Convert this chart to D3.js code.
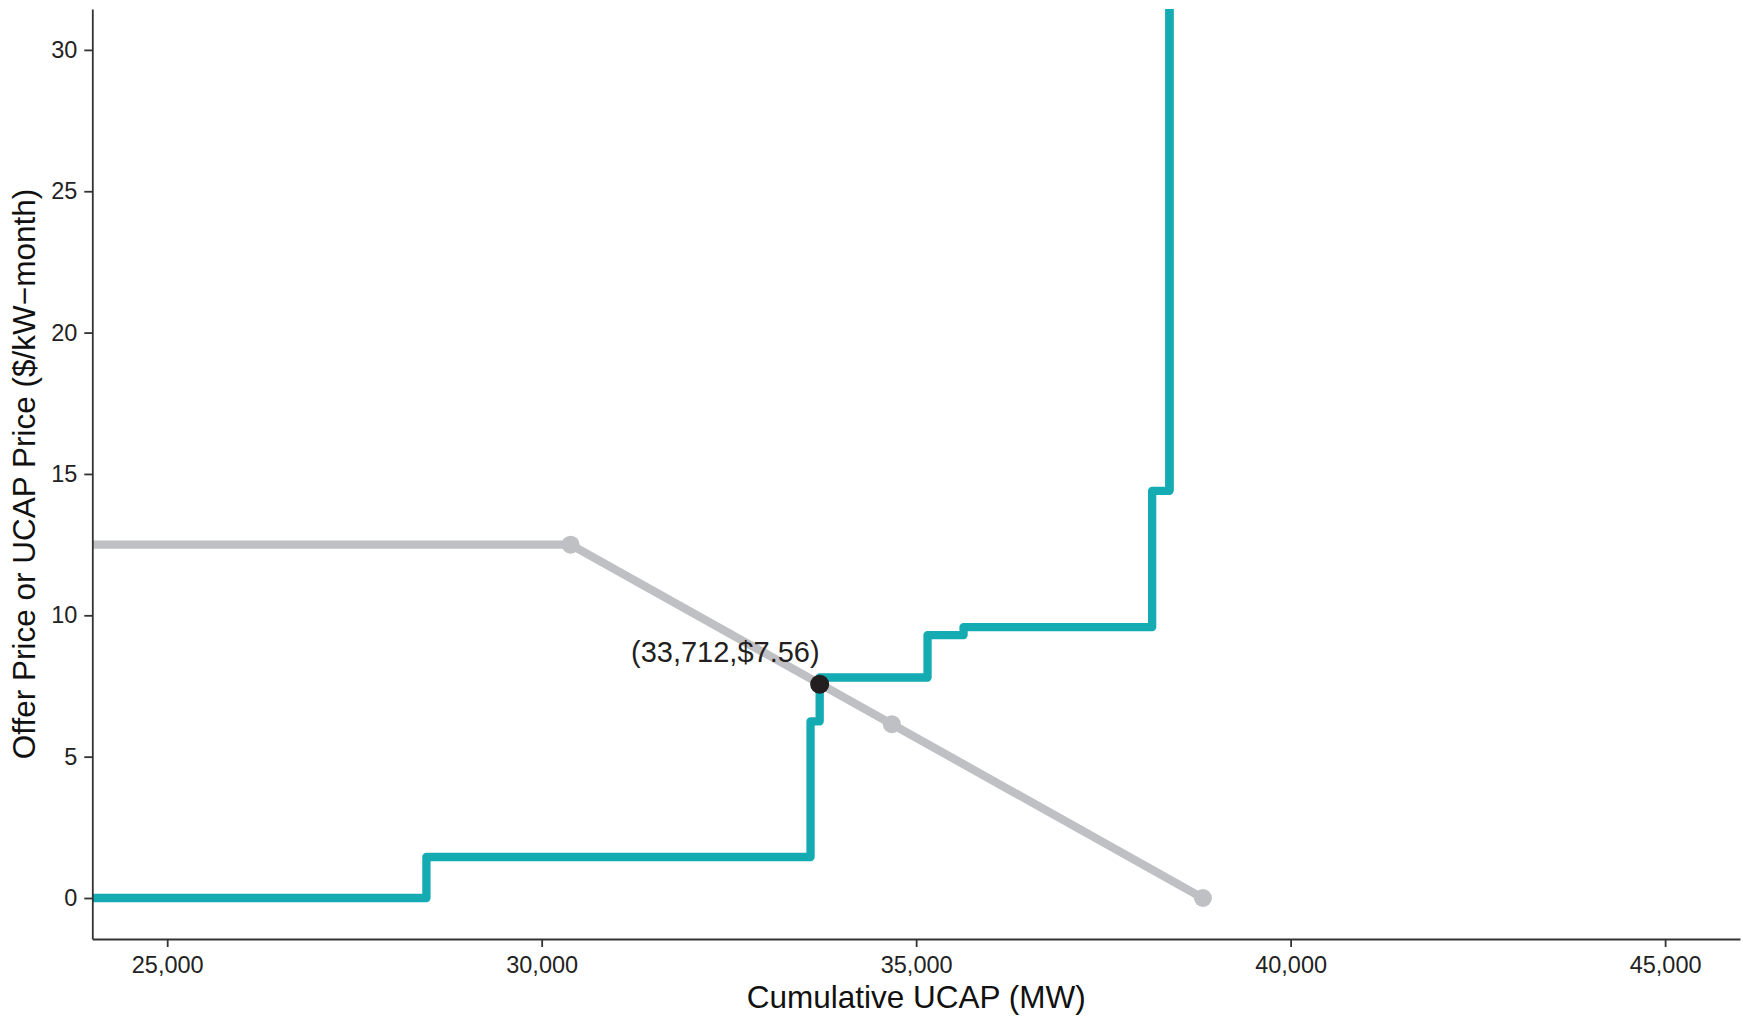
<!DOCTYPE html>
<html>
<head>
<meta charset="utf-8">
<script src="https://cdn.jsdelivr.net/npm/d3@7"></script>
<style>
  html, body { margin: 0; padding: 0; background: #fff; }
  text { font-family: "Liberation Sans", Arial, Helvetica, sans-serif; }
</style>
</head>
<body>
<svg id="chart" width="1743" height="1018"></svg>
<script>
// Supply curve (step-after): cumulative UCAP (MW) and offer price ($/kW-month)
const supplyMW    = [24000, 28461, 33590, 33712, 35152, 35633, 38151, 38382];
const supplyPrice = [0,     1.45,  6.25,  7.80,  9.30,  9.58,  14.40, 35];
const supplyEnd   = 38382;

// Demand curve points (marked with dots except the left edge)
const demandMW    = [24000, 30386, 34675, 38829];
const demandPrice = [12.5,  12.5,  6.15,  0];
const demandDots  = [false, true,  true,  true];

// Clearing point
const clearMW = [33712];
const clearPrice = [7.56];
const clearLabel = ["(33,712,$7.56)"];

const xTicks = [25000, 30000, 35000, 40000, 45000];
const yTicks = [0, 5, 10, 15, 20, 25, 30];

const teal = "#14abb3", grey = "#bfc0c4", dark = "#231f20";

const svg = d3.select("#chart");
const pLeft = 92.3, pRight = 1740, pTop = 8.9, pBottom = 939;

const x = d3.scaleLinear().domain([24000, 46000]).range([pLeft, pRight]);
const y = d3.scaleLinear().domain([-1.45, 31.45]).range([pBottom, pTop]);

svg.append("defs").append("clipPath").attr("id", "clip")
  .append("rect").attr("x", pLeft).attr("y", pTop)
  .attr("width", pRight - pLeft).attr("height", pBottom - pTop);

const plot = svg.append("g").attr("clip-path", "url(#clip)");

// Demand line
const demand = demandMW.map((m, i) => ({mw: m, p: demandPrice[i], dot: demandDots[i]}));
plot.append("path")
  .datum(demand)
  .attr("fill", "none").attr("stroke", grey).attr("stroke-width", 8.3)
  .attr("stroke-linejoin", "round")
  .attr("d", d3.line().x(d => x(d.mw)).y(d => y(d.p)));
plot.selectAll("circle.dem").data(demand.filter(d => d.dot)).join("circle")
  .attr("class", "dem")
  .attr("cx", d => x(d.mw)).attr("cy", d => y(d.p)).attr("r", 9)
  .attr("fill", grey);

// Supply step line
const supply = supplyMW.map((m, i) => ({mw: m, p: supplyPrice[i]}));
plot.append("path")
  .datum(supply)
  .attr("fill", "none").attr("stroke", teal).attr("stroke-width", 8.3)
  .attr("stroke-linejoin", "round")
  .attr("d", d3.line().x(d => x(d.mw)).y(d => y(d.p)).curve(d3.curveStepAfter));
plot.append("path")
  .datum([{mw: supplyEnd, p: supplyPrice[supplyPrice.length - 2]}, {mw: supplyEnd, p: supplyPrice[supplyPrice.length - 1]}])
  .attr("fill", "none").attr("stroke", teal).attr("stroke-width", 8.3)
  .attr("d", d3.line().x(d => x(d.mw)).y(d => y(d.p)));

// Clearing point
const clear = clearMW.map((m, i) => ({mw: m, p: clearPrice[i], label: clearLabel[i]}));
svg.selectAll("circle.clr").data(clear).join("circle")
  .attr("class", "clr")
  .attr("cx", d => x(d.mw)).attr("cy", d => y(d.p)).attr("r", 9.5)
  .attr("fill", dark);
svg.selectAll("text.clr").data(clear).join("text")
  .attr("class", "clr")
  .attr("x", d => x(d.mw)).attr("y", d => y(d.p) - 22)
  .attr("text-anchor", "end")
  .attr("font-size", 29).attr("fill", dark)
  .text(d => d.label);

// Axes
const fmt = d3.format(",");
const xAxis = svg.append("g").attr("transform", `translate(0,${pBottom})`)
  .call(d3.axisBottom(x).tickValues(xTicks).tickFormat(fmt).tickSizeInner(8).tickSizeOuter(0).tickPadding(9));
const yAxis = svg.append("g").attr("transform", `translate(${pLeft},0)`)
  .call(d3.axisLeft(y).tickValues(yTicks).tickSizeInner(8).tickSizeOuter(0).tickPadding(7));

[xAxis, yAxis].forEach(g => {
  g.select(".domain").attr("stroke", "#333").attr("stroke-width", 1.8);
  g.selectAll(".tick line").attr("stroke", "#333").attr("stroke-width", 1.8);
  g.selectAll(".tick text").attr("font-size", 23.5).attr("fill", "#222")
    .style("font-family", "'Liberation Sans', Arial, sans-serif");
});

// Axis titles
svg.append("text")
  .attr("x", (pLeft + pRight) / 2).attr("y", 1008)
  .attr("text-anchor", "middle").attr("font-size", 31.5).attr("fill", "#111")
  .text("Cumulative UCAP (MW)");
svg.append("text")
  .attr("transform", `translate(35,${(pTop + pBottom) / 2}) rotate(-90)`)
  .attr("text-anchor", "middle").attr("font-size", 31.5).attr("fill", "#111")
  .text("Offer Price or UCAP Price ($/kW−month)");
</script>
</body>
</html>
